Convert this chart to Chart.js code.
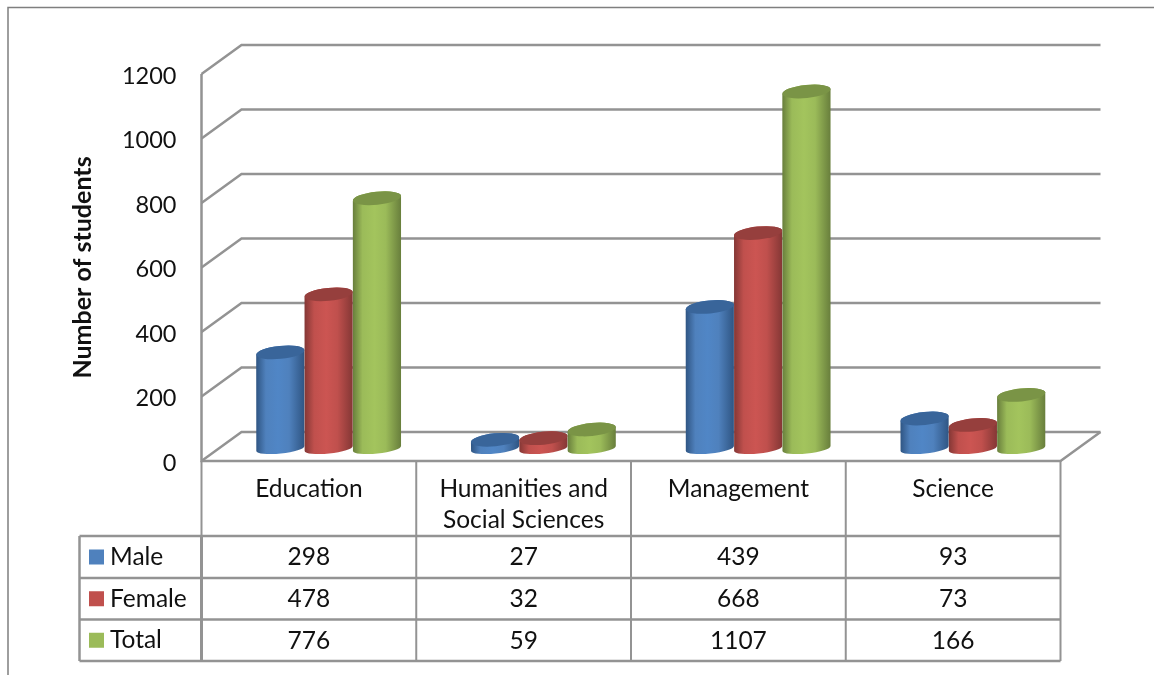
<!DOCTYPE html>
<html>
<head>
<meta charset="utf-8">
<style>
  html, body { margin: 0; padding: 0; background: #fff; }
  canvas { display: block; }
</style>
<script src="https://cdn.jsdelivr.net/npm/chart.js@4/dist/chart.umd.min.js"></script>
</head>
<body>
<canvas id="studentsChart" width="1154" height="675"></canvas>
<script>
const categories = [
    "Education",
    ["Humanities and", "Social Sciences"],
    "Management",
    "Science"
];
const seriesNames = ["Male", "Female", "Total"];
const maleValues = [298, 27, 439, 93];
const femaleValues = [478, 32, 668, 73];
const totalValues = [776, 59, 1107, 166];

const FONT = "Lato, Carlito, sans-serif";
const GREY = "#939393";
const colors = [
    { side: "#4f81bd", light: "#5086c6", dark: "#2f5583", top: "#39659a" },
    { side: "#c0504d", light: "#cc5552", dark: "#843735", top: "#963f3d" },
    { side: "#9bbb59", light: "#a3c45d", dark: "#687e3c", top: "#7a9446" }
];
const allValues = [maleValues, femaleValues, totalValues];

// floor depth of the fake 3d box
const DEPTH_X = 40;
const DEPTH_Y = 29;
const BAR_DX = 19.8;
const BAR_DY = -12.5;
const TOP_RY = 6.5;
const BASE_RY = 5;
const TILT = -0.1;
const rowLines = [536, 578, 619.5, 661];
const tableLeft = 79.5;

function line(ctx, pts, width, color) {
    ctx.beginPath();
    ctx.moveTo(pts[0][0], pts[0][1]);
    pts.slice(1).forEach(p => ctx.lineTo(p[0], p[1]));
    ctx.lineWidth = width || 2.5;
    ctx.strokeStyle = color || GREY;
    ctx.stroke();
}

function drawCylinder(ctx, bar, c) {
    const w = bar.width;
    const left = bar.x + BAR_DX - w / 2;
    const right = left + w;
    const cx = bar.x + BAR_DX;
    const topY = bar.y + BAR_DY;
    const baseY = bar.base + BAR_DY;
    const edge = (w / 2) * Math.sin(TILT);

    const grad = ctx.createLinearGradient(left, 0, right, 0);
    grad.addColorStop(0, c.dark);
    grad.addColorStop(0.2, c.side);
    grad.addColorStop(0.45, c.light);
    grad.addColorStop(0.68, c.side);
    grad.addColorStop(1, c.dark);

    ctx.beginPath();
    ctx.ellipse(cx, baseY, w / 2, BASE_RY, TILT, 0, Math.PI);
    ctx.lineTo(left, topY - edge);
    ctx.ellipse(cx, topY, w / 2, TOP_RY, TILT, Math.PI, 0);
    ctx.closePath();
    ctx.fillStyle = grad;
    ctx.fill();

    ctx.beginPath();
    ctx.ellipse(cx, topY, w / 2, TOP_RY, TILT, 0, Math.PI * 2);
    ctx.fillStyle = c.top;
    ctx.fill();
}

const box3d = {
    id: "box3d",
    beforeDraw(chart) {
        const ctx = chart.ctx;
        const area = chart.chartArea;
        const y = chart.scales.y;

        // picture frame
        line(ctx, [[1154, 7.5], [8, 7.5], [8, 675]], 1.5, "#7f7f7f");

        y.ticks.forEach(t => {
            const py = y.getPixelForValue(t.value);
            line(ctx, [
                [area.left, py],
                [area.left + DEPTH_X, py - DEPTH_Y],
                [area.right + DEPTH_X, py - DEPTH_Y]
            ]);
        });
        // floor and front axis
        line(ctx, [[area.left, area.top], [area.left, area.bottom], [area.right, area.bottom],
            [area.right + DEPTH_X, area.bottom - DEPTH_Y]]);
    },
    beforeDatasetDraw() {
        return false;
    },
    afterDatasetsDraw(chart) {
        const ctx = chart.ctx;
        allValues.forEach((vals, i) => {
            chart.getDatasetMeta(i).data.forEach(bar => drawCylinder(ctx, bar, colors[i]));
        });
    },
    afterDraw(chart) {
        const ctx = chart.ctx;
        const area = chart.chartArea;
        const colW = (area.right - area.left) / categories.length;

        // data table below the floor
        rowLines.forEach(ry => line(ctx, [[tableLeft, ry], [area.right, ry]]));
        line(ctx, [[tableLeft, rowLines[0]], [tableLeft, rowLines[3]]]);
        line(ctx, [[area.left, area.bottom], [area.left, rowLines[0]]], 2);
        line(ctx, [[area.left, rowLines[0]], [area.left, rowLines[3]]], 3);
        for (let i = 1; i <= categories.length; i++) {
            const x = area.left + colW * i;
            line(ctx, [[x, area.bottom], [x, rowLines[3]]], 2);
        }

        ctx.font = "24.5px " + FONT;
        ctx.textBaseline = "middle";
        seriesNames.forEach((name, r) => {
            const midY = (rowLines[r] + rowLines[r + 1]) / 2;
            ctx.fillStyle = colors[r].side;
            ctx.fillRect(89, midY - 7.5, 15, 15);
            ctx.fillStyle = "#111";
            ctx.textAlign = "left";
            ctx.fillText(name, 110, midY);
            ctx.textAlign = "center";
            allValues[r].forEach((v, i) => {
                ctx.fillText(String(v), area.left + colW * (i + 0.5), midY + 0.5);
            });
        });
    }
};

const ctx = document.getElementById("studentsChart").getContext("2d");
new Chart(ctx, {
    type: "bar",
    data: {
        labels: categories,
        datasets: seriesNames.map((name, i) => ({
            label: name,
            data: allValues[i],
            backgroundColor: colors[i].side,
            categoryPercentage: 0.675,
            barPercentage: 1
        }))
    },
    options: {
        responsive: false,
        animation: false,
        layout: { padding: { left: 0, top: 74, right: 93.5, bottom: 0 } },
        plugins: {
            legend: { display: false },
            tooltip: { enabled: false }
        },
        scales: {
            x: {
                grid: { display: false },
                border: { display: false },
                afterFit: s => { s.height = 214; },
                ticks: {
                    color: "#111",
                    padding: 4,
                    maxRotation: 0,
                    autoSkip: false,
                    font: { family: FONT, size: 24.5, lineHeight: 1.28 }
                }
            },
            y: {
                min: 0,
                max: 1200,
                grid: { display: false, drawTicks: false },
                border: { display: false },
                afterFit: s => { s.width = 201.5; },
                ticks: {
                    stepSize: 200,
                    color: "#111",
                    padding: 25,
                    labelOffset: 2,
                    callback: v => String(v),
                    font: { family: FONT, size: 23.5 }
                },
                title: {
                    display: true,
                    text: "Number of students",
                    color: "#111",
                    padding: { top: 68, bottom: 0 },
                    font: { family: FONT, size: 25, weight: "bold" }
                }
            }
        }
    },
    plugins: [box3d]
});
</script>
</body>
</html>
